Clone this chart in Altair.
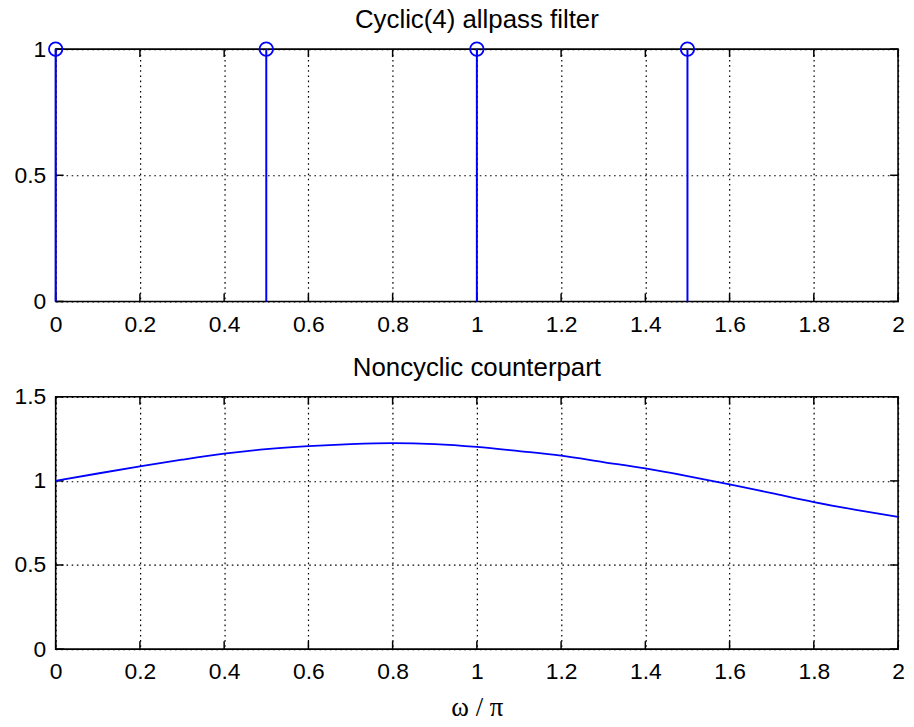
import altair as alt
import pandas as pd

# ---- data ----
stem_x = [0, 0.5, 1, 1.5]
stem_y = [1, 1, 1, 1]

curve_x = [0.0, 0.1, 0.2, 0.3, 0.4, 0.5, 0.6, 0.7, 0.8, 0.9, 1.0,
           1.1, 1.2, 1.3, 1.4, 1.5, 1.6, 1.7, 1.8, 1.9, 2.0]
curve_y = [1.000, 1.044, 1.086, 1.126, 1.162, 1.189, 1.207, 1.219, 1.225, 1.219, 1.202,
           1.177, 1.150, 1.112, 1.074, 1.029, 0.980, 0.927, 0.874, 0.828, 0.786]

x_ticks = [0, 0.2, 0.4, 0.6, 0.8, 1, 1.2, 1.4, 1.6, 1.8, 2]
y_ticks_top = [0, 0.5, 1]
y_ticks_bot = [0, 0.5, 1, 1.5]

title_top = "Cyclic(4) allpass filter"
title_bot = "Noncyclic counterpart"
x_title = "ω / π"

# ---- style ----
W, H = 848, 254
TICK = 8
BLUE = "#0000FF"
FONT = "Liberation Sans"
SERIF = "Liberation Serif"
LABEL_SIZE = 23

stem_df = pd.DataFrame({"x": stem_x, "y": stem_y})
curve_df = pd.DataFrame({"x": curve_x, "y": curve_y})
xt_df = pd.DataFrame({"t": x_ticks})


def x_axis(title=None):
    kw = dict(values=x_ticks, format="~g", grid=True, gridDash=[1.6, 3.6],
              gridColor="black", gridWidth=1.2, gridOpacity=1, ticks=False,
              tickSize=0, domain=False, labelFont=FONT, labelFontSize=LABEL_SIZE,
              labelColor="black", labelPadding=12, labelFlush=False,
              labelOverlap=False, title=title)
    if title:
        kw.update(titleFont=SERIF, titleFontSize=27, titleFontWeight="normal",
                  titleColor="black", titlePadding=11)
    return alt.Axis(**kw)


def y_axis(vals):
    return alt.Axis(values=vals, format="~g", grid=True, gridDash=[1.6, 3.6],
                    gridColor="black", gridWidth=1.2, gridOpacity=1, ticks=False,
                    tickSize=0, domain=False, labelFont=FONT, labelFontSize=LABEL_SIZE,
                    labelColor="black", labelPadding=10, labelFlush=False,
                    labelOverlap=False, title=None, minExtent=42, maxExtent=42)


def panel(marks, yticks, ydomain, title, xtitle=None):
    xs = alt.Scale(domain=[0, 2], nice=False, zero=False)
    ys = alt.Scale(domain=ydomain, nice=False, zero=False)
    xa = x_axis(xtitle)
    ya = y_axis(yticks)
    yt_df = pd.DataFrame({"t": yticks})

    layers = []
    # x ticks (top and bottom, pointing inward)
    layers.append(alt.Chart(xt_df).mark_rule(color="black", strokeWidth=1.5).encode(
        x=alt.X("t:Q", scale=xs, axis=xa), y=alt.value(0), y2=alt.value(TICK)))
    layers.append(alt.Chart(xt_df).mark_rule(color="black", strokeWidth=1.5).encode(
        x=alt.X("t:Q", scale=xs, axis=xa), y=alt.value(H - TICK), y2=alt.value(H)))
    # y ticks (left and right, pointing inward)
    layers.append(alt.Chart(yt_df).mark_rule(color="black", strokeWidth=1.5).encode(
        y=alt.Y("t:Q", scale=ys, axis=ya), x=alt.value(0), x2=alt.value(TICK)))
    layers.append(alt.Chart(yt_df).mark_rule(color="black", strokeWidth=1.5).encode(
        y=alt.Y("t:Q", scale=ys, axis=ya), x=alt.value(W - TICK), x2=alt.value(W)))
    for m in marks:
        layers.append(m(xs, ys, xa, ya))
    return alt.layer(*layers).properties(
        width=W, height=H,
        title=alt.TitleParams(title, font=FONT, fontSize=26, fontWeight="normal",
                              color="black", offset=-16, baseline="alphabetic"))


def stems(xs, ys, xa, ya):
    return alt.Chart(stem_df).mark_rule(color=BLUE, strokeWidth=2).encode(
        x=alt.X("x:Q", scale=xs, axis=xa),
        y=alt.Y("y:Q", scale=ys, axis=ya),
        y2=alt.datum(0))


def circles(xs, ys, xa, ya):
    return alt.Chart(stem_df).mark_point(shape="circle", filled=False, size=185,
                                         strokeWidth=1.8, color=BLUE, opacity=1).encode(
        x=alt.X("x:Q", scale=xs, axis=xa),
        y=alt.Y("y:Q", scale=ys, axis=ya))


def curve(xs, ys, xa, ya):
    return alt.Chart(curve_df).mark_line(color=BLUE, strokeWidth=1.8,
                                         interpolate="monotone").encode(
        x=alt.X("x:Q", scale=xs, axis=xa),
        y=alt.Y("y:Q", scale=ys, axis=ya))


top = panel([stems, circles], y_ticks_top, [0, 1], title_top)
bottom = panel([curve], y_ticks_bot, [0, 1.5], title_bot, xtitle=x_title)

chart = alt.vconcat(top, bottom, spacing=17).properties(
    padding={"left": 5, "top": -4, "right": 0, "bottom": 0}
).configure_view(stroke="black", strokeWidth=1.6)

chart.save("out.html", embed_options={"renderer": "svg", "actions": False})
